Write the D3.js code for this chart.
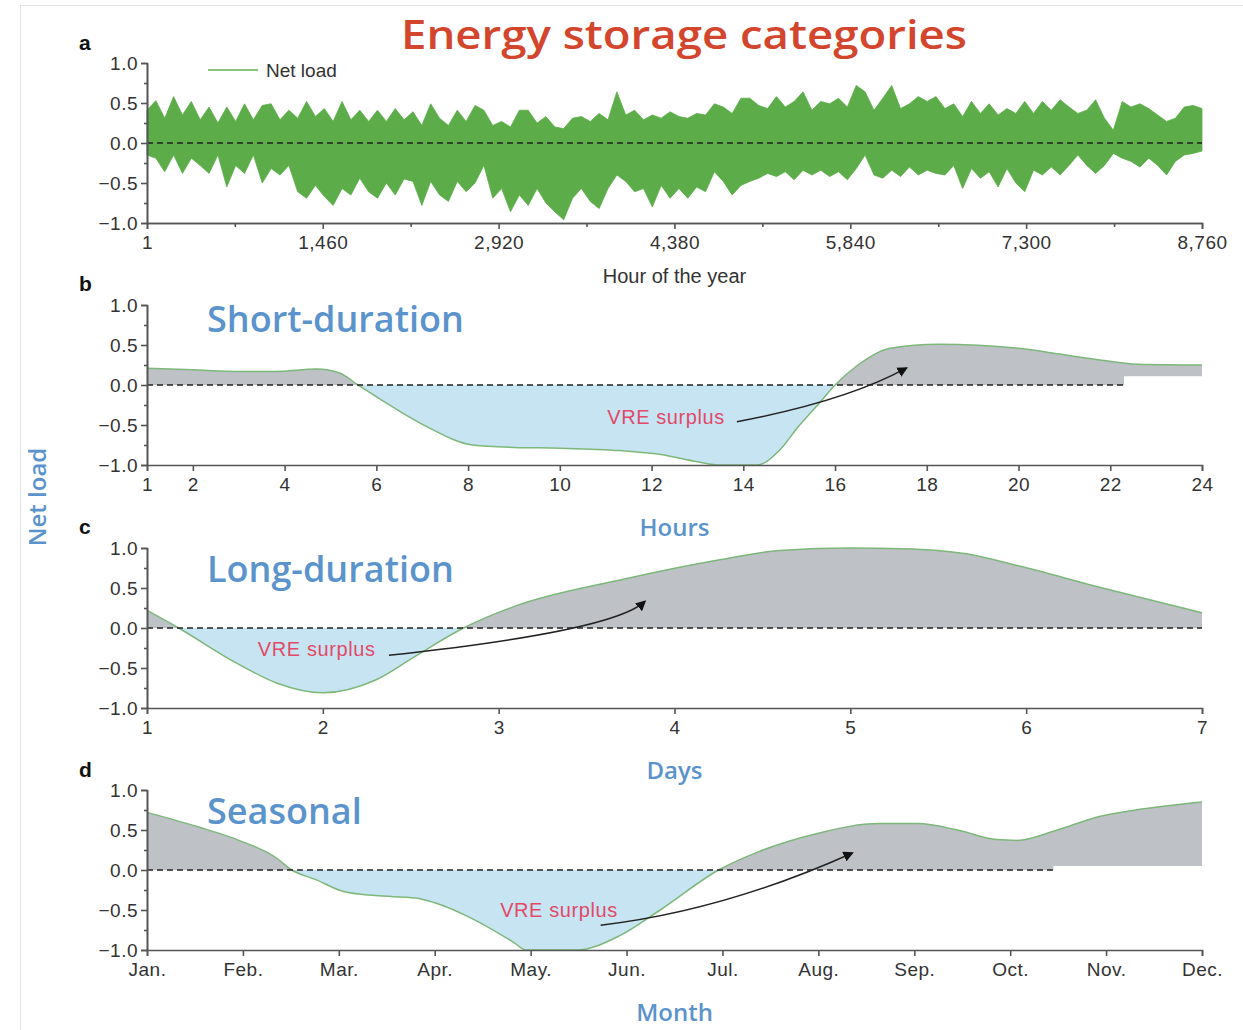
<!DOCTYPE html>
<html>
<head>
<meta charset="utf-8">
<script src="https://cdn.jsdelivr.net/npm/d3@7"></script>
<style>
  body { margin: 0; background: #fff; }
  svg text { font-family: "Liberation Sans", Arial, sans-serif; }
  .axis path, .axis line { stroke: #555; stroke-width: 1.6; }
  .axis text { font-size: 19px; fill: #333; letter-spacing: 0.5px; font-family: "Liberation Sans", Arial, sans-serif; }
  .cat { font-family: "Open Sans", sans-serif; font-weight: 600; fill: #5b93cc; }
  .vre { font-size: 20px; fill: #e24a68; letter-spacing: 0.6px; }
</style>
</head>
<body>
<svg id="chart" width="1243" height="1030"></svg>
<script>
// ---- data ----
var loadTicks = [-1, -0.5, 0, 0.5, 1];
var minorLoadTicks = [-0.75, -0.25, 0.25, 0.75];

// a: hourly net load, read as upper / lower envelope of the band
var hourTicks = [1, 1460, 2920, 4380, 5840, 7300, 8760];
var hourMinorTicks = [730, 2190, 3650, 5110, 6570, 8030];
var netLoadHigh = [
  0.41, 0.53, 0.31, 0.58, 0.35, 0.52, 0.29, 0.45, 0.25, 0.45, 0.27, 0.49, 0.29, 0.47, 0.49,
  0.29, 0.41, 0.31, 0.52, 0.33, 0.43, 0.27, 0.52, 0.29, 0.41, 0.27, 0.41, 0.27, 0.43, 0.29,
  0.39, 0.22, 0.49, 0.31, 0.22, 0.41, 0.27, 0.47, 0.41, 0.22, 0.27, 0.2, 0.41, 0.41, 0.25,
  0.33, 0.2, 0.18, 0.31, 0.33, 0.27, 0.37, 0.29, 0.64, 0.35, 0.41, 0.29, 0.35, 0.31, 0.39,
  0.33, 0.31, 0.37, 0.35, 0.49, 0.45, 0.37, 0.56, 0.56, 0.47, 0.43, 0.58, 0.45, 0.52, 0.64,
  0.41, 0.52, 0.49, 0.56, 0.45, 0.72, 0.64, 0.41, 0.56, 0.72, 0.43, 0.49, 0.58, 0.52, 0.58,
  0.43, 0.49, 0.33, 0.52, 0.37, 0.49, 0.35, 0.43, 0.37, 0.52, 0.37, 0.52, 0.41, 0.54, 0.45,
  0.37, 0.41, 0.54, 0.31, 0.16, 0.52, 0.45, 0.49, 0.43, 0.35, 0.27, 0.31, 0.45, 0.47, 0.43
];
var netLoadLow = [
  -0.15, -0.19, -0.36, -0.15, -0.38, -0.19, -0.28, -0.38, -0.15, -0.55, -0.28, -0.38, -0.15, -0.5, -0.32,
  -0.4, -0.28, -0.61, -0.69, -0.53, -0.67, -0.78, -0.57, -0.65, -0.44, -0.61, -0.69, -0.5, -0.65, -0.45,
  -0.48, -0.78, -0.48, -0.65, -0.73, -0.48, -0.61, -0.5, -0.28, -0.69, -0.57, -0.86, -0.65, -0.78, -0.57,
  -0.75, -0.86, -0.96, -0.69, -0.57, -0.73, -0.82, -0.57, -0.4, -0.48, -0.61, -0.57, -0.8, -0.53, -0.69,
  -0.57, -0.69, -0.55, -0.61, -0.36, -0.48, -0.65, -0.53, -0.48, -0.44, -0.38, -0.42, -0.36, -0.46, -0.34,
  -0.4, -0.34, -0.42, -0.36, -0.46, -0.32, -0.15, -0.4, -0.44, -0.34, -0.42, -0.3, -0.4, -0.34, -0.38,
  -0.4, -0.28, -0.57, -0.32, -0.44, -0.36, -0.55, -0.32, -0.5, -0.61, -0.34, -0.4, -0.3, -0.4, -0.28,
  -0.15, -0.28, -0.38, -0.28, -0.13, -0.19, -0.23, -0.3, -0.19, -0.28, -0.4, -0.23, -0.15, -0.13, -0.1
];

// b: short-duration (hours)
var shortTicks = [1, 2, 4, 6, 8, 10, 12, 14, 16, 18, 20, 22, 24];
var shortHours = [1, 2, 3, 3.8, 4.7, 5.2, 5.6, 6.4, 7.1, 8.1, 9, 10, 11.3, 12.2, 13, 13.5, 14.3, 14.8, 15.2, 15.65, 16, 16.5, 17.2, 18.25, 20, 20.85, 21.7, 22.6, 24];
var shortLoad = [0.21, 0.19, 0.17, 0.17, 0.2, 0.15, 0, -0.29, -0.52, -0.75, -0.78, -0.79, -0.82, -0.87, -0.96, -1, -1, -0.81, -0.52, -0.23, 0, 0.25, 0.46, 0.51, 0.46, 0.39, 0.32, 0.26, 0.25];
var shortCut = { at: 22.3, level: 0.11 };
var shortArrow = [[13.86, -0.46], [16.25, -0.2], [17.55, 0.21]];
var shortLabel = [13.6, -0.4];

// c: long-duration (days)
var dayTicks = [1, 2, 3, 4, 5, 6, 7];
var longDays = [1, 1.18, 1.51, 1.74, 2, 2.3, 2.52, 2.8, 3.09, 3.69, 4.25, 4.6, 5, 5.3, 5.65, 5.95, 6.4, 7];
var longLoad = [0.22, 0, -0.44, -0.69, -0.81, -0.65, -0.36, 0, 0.27, 0.6, 0.85, 0.97, 1, 0.99, 0.93, 0.78, 0.52, 0.19];
var longArrow = [[2.376, -0.34], [3.65, -0.04], [3.83, 0.33]];
var longLabel = [2.3, -0.26];

// d: seasonal (month index)
var months = ["Jan.", "Feb.", "Mar.", "Apr.", "May.", "Jun.", "Jul.", "Aug.", "Sep.", "Oct.", "Nov.", "Dec."];
var seasonIdx = [0, 0.53, 0.94, 1.35, 1.51, 1.76, 2.05, 2.38, 2.8, 3, 3.41, 3.83, 3.95, 4.48, 4.93, 5.35, 5.96, 6.38, 7, 7.62, 8.04, 8.45, 8.86, 9.07, 9.49, 9.9, 10.31, 11];
var seasonLoad = [0.72, 0.54, 0.38, 0.15, 0, -0.12, -0.27, -0.32, -0.35, -0.41, -0.62, -0.91, -1, -1, -0.82, -0.5, 0, 0.23, 0.46, 0.58, 0.58, 0.5, 0.38, 0.37, 0.5, 0.66, 0.75, 0.85];
var seasonCut = { at: 9.45, level: 0.05 };
var seasonArrow = [[4.73, -0.69], [6.01, -0.51], [7.35, 0.21]];
var seasonLabel = [4.91, -0.5];

// ---- drawing ----
var svg = d3.select("#chart");
var left = 147, right = 1202, panelH = 160;
var greyFill = "#bec2c7", blueFill = "#c7e4f3", curveGreen = "#7db87a";
var fmtLoad = d3.format(".1f");

svg.append("rect")
  .attr("x", 20.5).attr("y", 5.5).attr("width", 1240).attr("height", 1040)
  .attr("fill", "none").attr("stroke", "#e3e3e3");

var defs = svg.append("defs");
defs.append("marker")
  .attr("id", "arrow").attr("viewBox", "0 0 10 10")
  .attr("refX", 8).attr("refY", 5)
  .attr("markerWidth", 7).attr("markerHeight", 7)
  .attr("orient", "auto")
  .append("path").attr("d", "M0,0L10,5L0,10z").attr("fill", "#111");

var yScale = function (top) {
  return d3.scaleLinear().domain([-1, 1]).range([top + panelH, top]);
};

var zeroLine = function (g, x, y, end) {
  g.append("line")
    .attr("x1", left).attr("x2", x(end))
    .attr("y1", y(0)).attr("y2", y(0))
    .attr("stroke", "#222").attr("stroke-width", 1.6)
    .attr("stroke-dasharray", "6,4");
};

var drawAxes = function (g, x, y, ticks, fmt) {
  g.append("g").attr("class", "axis").attr("transform", `translate(${left},0)`)
    .call(d3.axisLeft(y).tickValues(minorLoadTicks).tickSize(3).tickSizeOuter(0).tickFormat(""));
  g.append("g").attr("class", "axis").attr("transform", `translate(${left},0)`)
    .call(d3.axisLeft(y).tickValues(loadTicks).tickSize(6).tickPadding(3).tickFormat(fmtLoad));
  g.append("g").attr("class", "axis").attr("transform", `translate(0,${y(-1)})`)
    .call(d3.axisBottom(x).tickValues(ticks).tickSize(6).tickPadding(7).tickFormat(fmt));
};

var drawArrow = function (g, x, y, pts) {
  var p = d3.path();
  p.moveTo(x(pts[0][0]), y(pts[0][1]));
  p.quadraticCurveTo(x(pts[1][0]), y(pts[1][1]), x(pts[2][0]), y(pts[2][1]));
  g.append("path").attr("d", p.toString())
    .attr("fill", "none").attr("stroke", "#222").attr("stroke-width", 1.5)
    .attr("marker-end", "url(#arrow)");
};

var drawProfile = function (id, top, xs, vals, x, cut) {
  var y = yScale(top);
  var g = svg.append("g");
  var pts = xs.map(function (d, i) { return [d, vals[i]]; });

  var area = d3.area().curve(d3.curveMonotoneX)
    .x(function (d) { return x(d[0]); })
    .y0(y(0))
    .y1(function (d) { return y(d[1]); });
  var line = d3.line().curve(d3.curveMonotoneX)
    .x(function (d) { return x(d[0]); })
    .y(function (d) { return y(d[1]); });

  var pos = defs.append("clipPath").attr("id", id + "-pos");
  var end = cut ? cut.at : x.domain()[1];
  pos.append("rect").attr("x", left).attr("y", top - 20)
    .attr("width", x(end) - left).attr("height", y(0) - top + 20);
  if (cut) {
    pos.append("rect").attr("x", x(cut.at)).attr("y", top - 20)
      .attr("width", right - x(cut.at)).attr("height", y(cut.level) - top + 20);
  }
  defs.append("clipPath").attr("id", id + "-neg")
    .append("rect").attr("x", left).attr("y", y(0))
    .attr("width", right - left).attr("height", y(-1) - y(0) + 4);

  g.append("path").datum(pts).attr("d", area).attr("fill", greyFill).attr("clip-path", `url(#${id}-pos)`);
  g.append("path").datum(pts).attr("d", area).attr("fill", blueFill).attr("clip-path", `url(#${id}-neg)`);
  g.append("path").datum(pts).attr("d", line)
    .attr("fill", "none").attr("stroke", curveGreen).attr("stroke-width", 1.5);
  zeroLine(g, x, y, end);
  return { g: g, y: y };
};

var addText = function (txt, x, y, opts) {
  var t = svg.append("text").attr("x", x).attr("y", y).text(txt);
  for (var k in opts) { t.attr(k, opts[k]); }
  return t;
};

// title and panel letters
addText("Energy storage categories", 684, 49, {
  "text-anchor": "middle", "font-size": 40, "font-weight": 600, fill: "#d3452c",
  textLength: 566, lengthAdjust: "spacingAndGlyphs", style: "font-family:'Open Sans',sans-serif"
});
[["a", 50], ["b", 291], ["c", 534], ["d", 777]].forEach(function (d) {
  addText(d[0], 79, d[1], { "font-size": 21, "font-weight": 700, fill: "#111" });
});

// ---- panel a ----
(function () {
  var top = 63;
  var x = d3.scaleLinear().domain([1, 8760]).range([left, right]);
  var y = yScale(top);
  var g = svg.append("g");
  var n = netLoadHigh.length;
  var pts = netLoadHigh.map(function (h, i) {
    return { hour: 1 + i * 8759 / (n - 1), high: h, low: netLoadLow[i] };
  });
  g.append("path").datum(pts)
    .attr("d", d3.area()
      .x(function (d) { return x(d.hour); })
      .y0(function (d) { return y(d.low); })
      .y1(function (d) { return y(d.high); }))
    .attr("fill", "#5cad4a").attr("stroke", "#5cad4a").attr("stroke-width", 0.8);
  zeroLine(g, x, y, 8760);

  g.append("g").attr("class", "axis").attr("transform", `translate(0,${y(-1)})`)
    .call(d3.axisBottom(x).tickValues(hourMinorTicks).tickSize(4).tickSizeOuter(0).tickFormat(""));
  drawAxes(g, x, y, hourTicks, d3.format(","));

  g.append("line").attr("x1", 208).attr("x2", 258).attr("y1", 70).attr("y2", 70)
    .attr("stroke", "#8cc67a").attr("stroke-width", 2);
  addText("Net load", 266, 77, { "font-size": 19, fill: "#333" });
  addText("Hour of the year", (left + right) / 2, y(-1) + 60, {
    "text-anchor": "middle", "font-size": 20, fill: "#333"
  });
})();

// ---- panel b ----
(function () {
  var x = d3.scaleLinear().domain([1, 24]).range([left, right]);
  var p = drawProfile("short", 305, shortHours, shortLoad, x, shortCut);
  drawAxes(p.g, x, p.y, shortTicks, d3.format("d"));
  drawArrow(p.g, x, p.y, shortArrow);
  addText("VRE surplus", x(shortLabel[0]), p.y(shortLabel[1]) + 7, { "class": "vre", "text-anchor": "end" });
  addText("Short-duration", 207, 332, { "class": "cat", "font-size": 36 });
  addText("Hours", (left + right) / 2, p.y(-1) + 71, { "class": "cat", "font-size": 24, "text-anchor": "middle" });
})();

// ---- panel c ----
(function () {
  var x = d3.scaleLinear().domain([1, 7]).range([left, right]);
  var p = drawProfile("long", 548, longDays, longLoad, x, null);
  drawAxes(p.g, x, p.y, dayTicks, d3.format("d"));
  drawArrow(p.g, x, p.y, longArrow);
  addText("VRE surplus", x(longLabel[0]), p.y(longLabel[1]) + 7, { "class": "vre", "text-anchor": "end" });
  addText("Long-duration", 207, 582, { "class": "cat", "font-size": 36 });
  addText("Days", (left + right) / 2, p.y(-1) + 71, { "class": "cat", "font-size": 24, "text-anchor": "middle" });
})();

// ---- panel d ----
(function () {
  var x = d3.scaleLinear().domain([0, 11]).range([left, right]);
  var p = drawProfile("season", 790, seasonIdx, seasonLoad, x, seasonCut);
  drawAxes(p.g, x, p.y, d3.range(months.length), function (i) { return months[i]; });
  drawArrow(p.g, x, p.y, seasonArrow);
  addText("VRE surplus", x(seasonLabel[0]), p.y(seasonLabel[1]) + 7, { "class": "vre", "text-anchor": "end" });
  addText("Seasonal", 207, 824, { "class": "cat", "font-size": 36 });
  addText("Month", (left + right) / 2, p.y(-1) + 71, { "class": "cat", "font-size": 24, "text-anchor": "middle" });
})();

// y label shared by b-d
addText("Net load", 0, 0, {
  "class": "cat", "font-size": 24, "font-weight": 400, "text-anchor": "middle",
  transform: "translate(46,497) rotate(-90)", fill: "#5b9bd5"
});
</script>
</body>
</html>
